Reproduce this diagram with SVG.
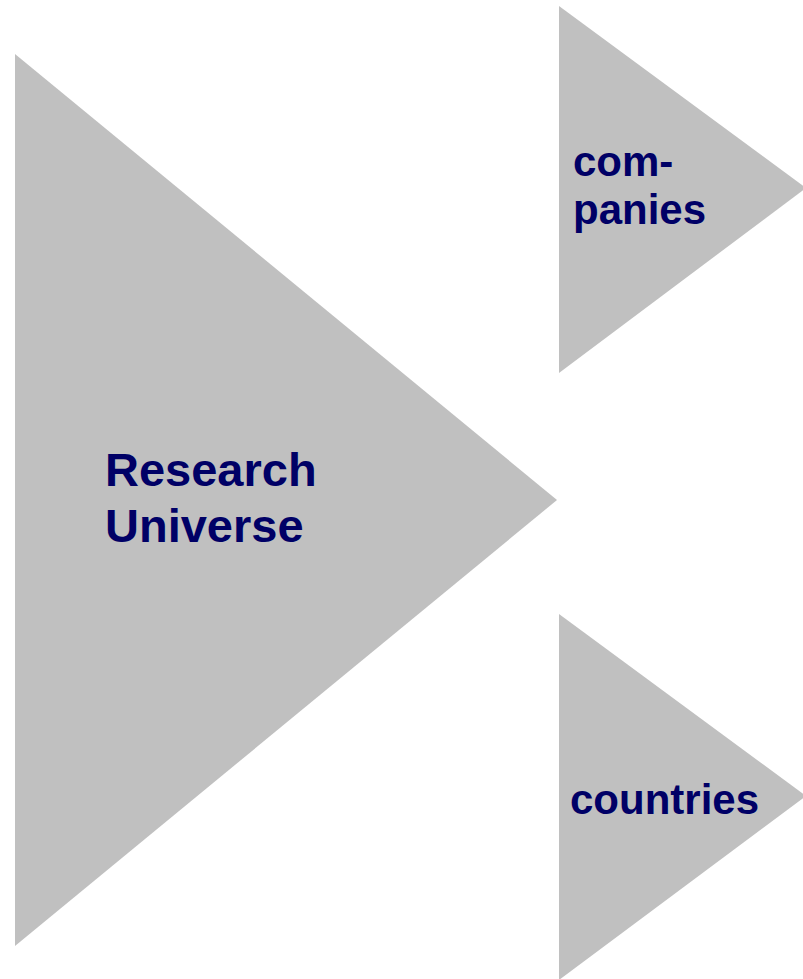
<svg xmlns="http://www.w3.org/2000/svg" width="803" height="979" viewBox="0 0 803 979">
<style>
.tri{fill:#C0C0C0;stroke:none}
.lbl{font-family:"Liberation Sans",Arial,sans-serif;font-weight:bold;fill:#000066}
</style>
<rect width="803" height="979" fill="#FFFFFF"/>
<g id="research-universe">
<polygon class="tri" points="15,54 557,500 15,946"/>
<text class="lbl" font-size="47" x="105" y="486">Research</text>
<text class="lbl" font-size="47" x="105" y="542">Universe</text>
</g>
<g id="companies">
<polygon class="tri" points="559,6 806,188 559,373"/>
<text class="lbl" font-size="42" x="573" y="176">com-</text>
<text class="lbl" font-size="42" x="573" y="224">panies</text>
</g>
<g id="countries">
<polygon class="tri" points="559,614 806,796 559,980"/>
<text class="lbl" font-size="42" x="570" y="814">countries</text>
</g>
<g id="connectors"/>
</svg>
